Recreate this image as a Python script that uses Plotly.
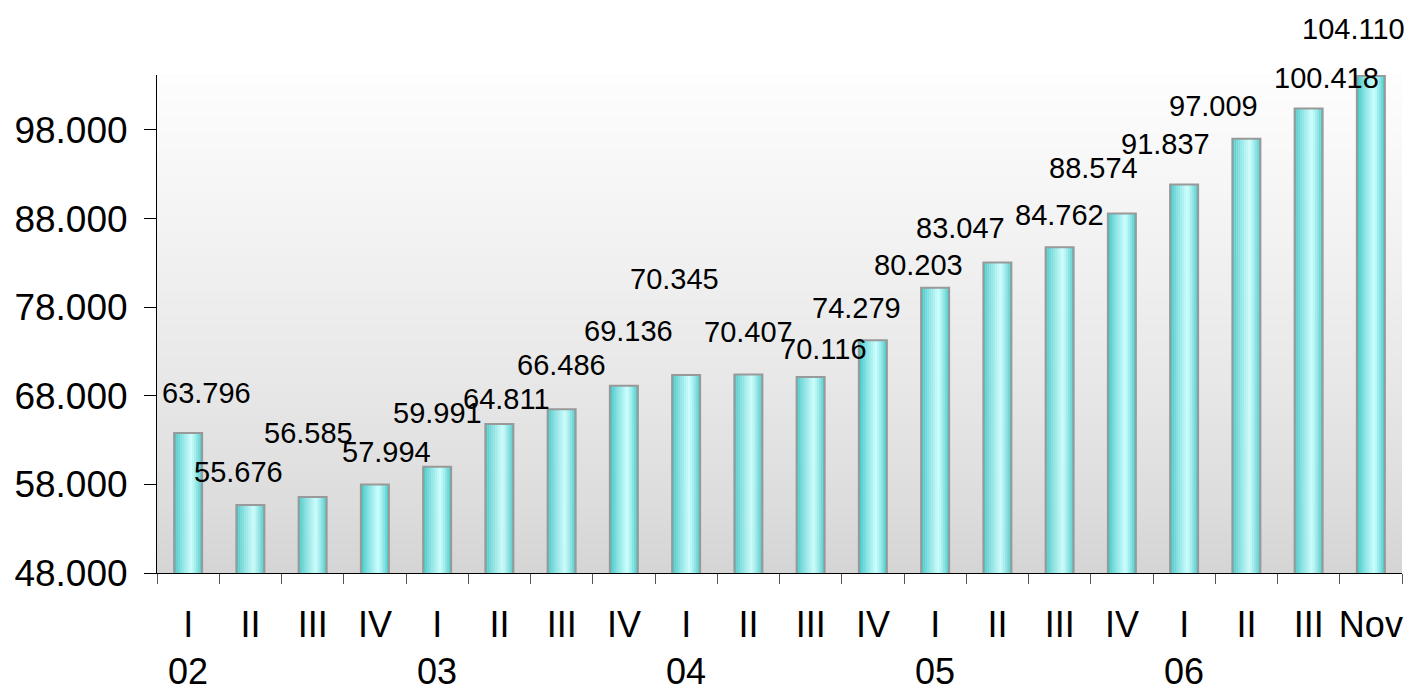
import plotly.graph_objects as go

# quarters 2002 .. 2006 plus November
quarters = ["I", "II", "III", "IV", "I", "II", "III", "IV", "I", "II",
            "III", "IV", "I", "II", "III", "IV", "I", "II", "III", "Nov"]
years = ["02", "", "", "", "03", "", "", "", "04", "", "", "", "05", "", "", "", "06", "", "", ""]
values = [63796, 55676, 56585, 57994, 59991, 64811, 66486, 69136, 70345, 70407,
          70116, 74279, 80203, 83047, 84762, 88574, 91837, 97009, 100418, 104110]
y_ticks = [48000, 58000, 68000, 78000, 88000, 98000]

# label nudges in pixels (dx, dy) relative to bar top, as in the original layout
label_nudge = [(18, 40), (-12, 33), (-4, 64), (12, 32), (0, 54), (7, 25), (0, 44), (5, 55),
               (-12, 96), (0, 42), (13, 28), (-16, 32), (-17, 23), (-37, 34), (0, 32),
               (-28, 45), (-19, 41), (-33, 33), (18, 31), (-17, 47)]

xs = list(range(len(values)))

fig = go.Figure()

# cylinder look: several thin strips per bar
bar_w = 0.45
n_strips = 14
dark = (60, 196, 196)
light = (205, 255, 255)
for k in range(n_strips):
    t = (k + 0.5) / n_strips
    # brightest a bit right of centre
    if t < 0.62:
        s = t / 0.62
    else:
        s = (1 - t) / 0.38
    s = s ** 0.8
    c = tuple(int(d + (l - d) * s) for d, l in zip(dark, light))
    fig.add_trace(go.Bar(
        x=xs, y=values,
        width=bar_w / n_strips + 0.002,
        offset=-bar_w / 2 + k * bar_w / n_strips,
        marker=dict(color="rgb(%d,%d,%d)" % c, line=dict(width=0)),
        hoverinfo="skip", showlegend=False,
    ))

# outline
fig.add_trace(go.Bar(
    x=xs, y=values, width=bar_w,
    marker=dict(color="rgba(0,0,0,0)", line=dict(color="#999999", width=2)),
    showlegend=False,
    hovertemplate="%{y:,d}<extra></extra>",
))

# background gradient in the plot area
n_bg = 60
for i in range(n_bg):
    t = i / n_bg
    g = int(213 + (254 - 213) * (t ** 0.8))
    fig.add_shape(type="rect", xref="x domain", yref="y domain",
                  x0=0, x1=1, y0=t, y1=(i + 1) / n_bg + 0.002,
                  fillcolor="rgb(%d,%d,%d)" % (g, g, g), line=dict(width=0),
                  layer="below")

for x, v, (dx, dy) in zip(xs, values, label_nudge):
    fig.add_annotation(x=x, y=v, text=f"{v:,}".replace(",", "."),
                       showarrow=False, xshift=dx, yshift=dy,
                       xanchor="center", yanchor="middle",
                       font=dict(size=29, color="black"))

# year row under the first quarter of each year
for x, yr in zip(xs, years):
    if yr:
        fig.add_annotation(x=x, y=0, yref="paper", text=yr, showarrow=False,
                           xanchor="center", yanchor="middle", yshift=-98,
                           font=dict(size=36, color="black"))

fig.update_layout(
    width=1409, height=688,
    margin=dict(l=157, r=7, t=75, b=115, autoexpand=False),
    paper_bgcolor="white",
    plot_bgcolor="rgba(0,0,0,0)",
    barmode="overlay",
    separators=",.",
    font=dict(family="Liberation Sans, Arial, sans-serif", color="black"),
    xaxis=dict(
        range=[-0.5, 19.5], tickvals=xs, ticktext=quarters,
        ticks="", showgrid=False, zeroline=False, automargin=False,
        showline=True, linecolor="black", linewidth=1,
        tickfont=dict(size=36), ticklabelstandoff=20,
        minor=dict(tick0=-0.5, dtick=1, ticks="outside", ticklen=10,
                   tickcolor="#555555", tickwidth=1, showgrid=False),
    ),
    yaxis=dict(
        range=[48000, 104200], tickvals=y_ticks,
        ticktext=[f"{v:,}".replace(",", ".") for v in y_ticks],
        ticks="outside", ticklen=12, tickcolor="black",
        showgrid=False, zeroline=False, automargin=False,
        showline=True, linecolor="black", linewidth=1,
        tickfont=dict(size=37), ticklabelstandoff=9,
    ),
)

# drop the default page margin so the chart sits at the window corner
fig.write_html("out.html", config={"displayModeBar": False},
               post_script="document.body.style.margin = '0';")
